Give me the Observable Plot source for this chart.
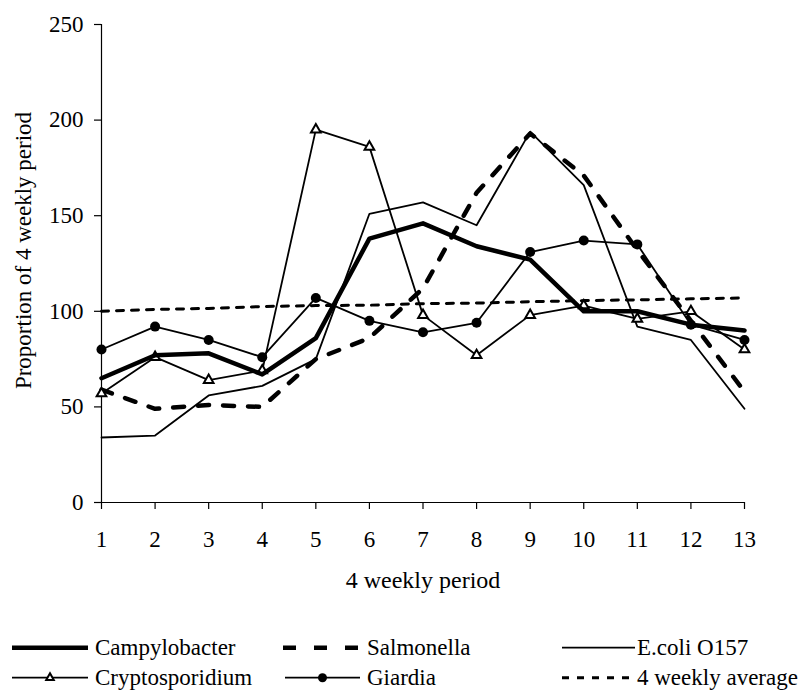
<!DOCTYPE html>
<html><head><meta charset="utf-8">
<script src="https://cdn.jsdelivr.net/npm/d3@7"></script>
<script src="https://cdn.jsdelivr.net/npm/@observablehq/plot@0.6"></script>
<style>
body{margin:0;background:#fff;}
#wrap{position:relative;width:812px;height:693px;font-family:"Liberation Serif","Times New Roman",serif;background:#fff;}
#legend{position:absolute;left:0;top:620px;width:812px;height:73px;}
svg text{font-family:"Liberation Serif","Times New Roman",serif !important;}
</style></head><body><div id="wrap"><div id="chart"></div><div id="legend"></div></div>
<script>
const periods = [1,2,3,4,5,6,7,8,9,10,11,12,13];
const yTicks = [0,50,100,150,200,250];
const campylobacter = [65,77,78,67,86,138,146,134,127,100,100,93,90];
const salmonella = [59,49,51,50,75,86,112,162,193,171,132,95,58];
const ecoli = [34,35,56,61,75,151,157,145,194,166,92,85,49];
const cryptosporidium = [57,76,64,69,195,186,98,77,98,103,96,100,80];
const giardia = [80,92,85,76,107,95,89,94,131,137,135,93,85];
const average = [100,101,101.5,102.5,103,103.2,104,104.3,105,105.6,106,106.5,107];
const seriesNames = ["Campylobacter","Salmonella","E.coli O157","Cryptosporidium","Giardia","4 weekly average"];
const xTitle = "4 weekly period";
const yTitle = "Proportion of 4 weekly period";
const serif = '"Liberation Serif", "Times New Roman", serif';

const rows = (vals) => periods.map((p,i) => ({period: p, value: vals[i]}));

const chart = Plot.plot({
  width: 812, height: 620,
  marginLeft: 101, marginRight: 68, marginTop: 24, marginBottom: 118,
  style: {fontFamily: serif, fontSize: "23px", color: "black", background: "white"},
  x: {domain: [1,13], ticks: periods},
  y: {domain: [0,250], ticks: yTicks},
  marks: [
    Plot.axisY({ticks: yTicks, tickSize: 7, tickPadding: 11, label: null, strokeWidth: 1.2, fontSize: 23, fontVariant: "normal"}),
    Plot.axisX({ticks: periods, tickSize: 7, tickPadding: 21, label: null, strokeWidth: 1.2, fontSize: 23, fontVariant: "normal"}),
    Plot.ruleX([1], {stroke: "black", strokeWidth: 1.2}),
    Plot.ruleY([0], {stroke: "black", strokeWidth: 1.2}),
    Plot.lineY(rows(average), {x: "period", y: "value", stroke: "black", strokeWidth: 3, strokeDasharray: "7,8"}),
    Plot.lineY(rows(ecoli), {x: "period", y: "value", stroke: "black", strokeWidth: 1.8}),
    Plot.lineY(rows(salmonella), {x: "period", y: "value", stroke: "black", strokeWidth: 4.5, strokeDasharray: "11,14"}),
    Plot.lineY(rows(giardia), {x: "period", y: "value", stroke: "black", strokeWidth: 1.8}),
    Plot.dot(rows(giardia), {x: "period", y: "value", fill: "black", r: 5}),
    Plot.lineY(rows(cryptosporidium), {x: "period", y: "value", stroke: "black", strokeWidth: 1.8}),
    Plot.dot(rows(cryptosporidium), {x: "period", y: "value", symbol: "triangle", fill: "white", stroke: "black", strokeWidth: 2, r: 3.6}),
    Plot.lineY(rows(campylobacter), {x: "period", y: "value", stroke: "black", strokeWidth: 4.5}),
    Plot.text([yTitle], {frameAnchor: "left", rotate: -90, dx: -78, dy: -13, textAnchor: "middle", lineAnchor: "middle", fontSize: 23, fill: "black"}),
    Plot.text([xTitle], {frameAnchor: "bottom", dy: 85, lineAnchor: "bottom", textAnchor: "middle", fontSize: 24, fill: "black"})
  ]
});
document.getElementById("chart").appendChild(chart);

// Legend
const lg = d3.select("#legend").append("svg").attr("width", 812).attr("height", 73)
  .style("font-family", serif).style("font-size", "23px");
const items = [
  {name: seriesNames[0], x0: 12, x1: 88, tx: 95, row: 0, w: 4.5},
  {name: seriesNames[1], x0: 283, x1: 358, tx: 367, row: 0, w: 4.5, dash: "13,18"},
  {name: seriesNames[2], x0: 562, x1: 635, tx: 637, row: 0, w: 1.8},
  {name: seriesNames[3], x0: 12, x1: 88, tx: 95, row: 1, w: 1.8, marker: "tri"},
  {name: seriesNames[4], x0: 285, x1: 360, tx: 367, row: 1, w: 1.8, marker: "dot"},
  {name: seriesNames[5], x0: 562, x1: 635, tx: 637, row: 1, w: 3, dash: "7,8"}
];
const rowY = [27.7, 57.7];
items.forEach(it => {
  const y = rowY[it.row];
  const l = lg.append("line").attr("x1", it.x0).attr("x2", it.x1).attr("y1", y).attr("y2", y)
    .attr("stroke", "black").attr("stroke-width", it.w);
  if (it.dash) l.attr("stroke-dasharray", it.dash);
  const mx = (it.x0 + it.x1) / 2;
  if (it.marker === "dot") lg.append("circle").attr("cx", mx).attr("cy", y).attr("r", 4.5).attr("fill", "black");
  if (it.marker === "tri") lg.append("path").attr("d", d3.symbol(d3.symbolTriangle2, Math.PI * 3.6 * 3.6)())
    .attr("transform", `translate(${mx},${y})`).attr("fill", "white").attr("stroke", "black").attr("stroke-width", 2);
  lg.append("text").attr("x", it.tx).attr("y", y + 7.5).attr("fill", "black").text(it.name);
});
</script></body></html>
